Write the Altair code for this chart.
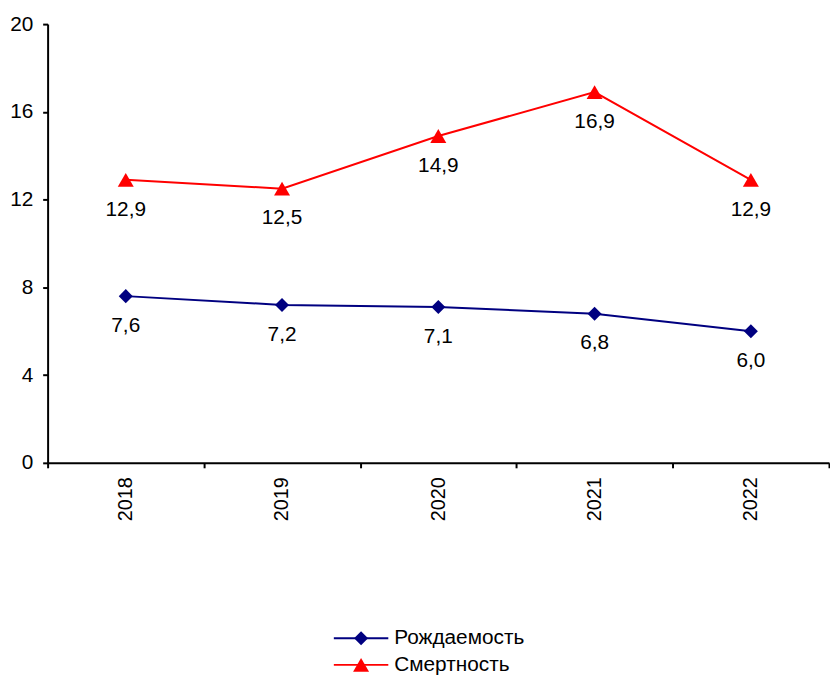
import altair as alt
import pandas as pd

# ---- data ----
years = [2018, 2019, 2020, 2021, 2022]
births = [7.6, 7.2, 7.1, 6.8, 6.0]
deaths = [12.9, 12.5, 14.9, 16.9, 12.9]
series_names = ["Рождаемость", "Смертность"]
series_colors = ["#000080", "#FF0000"]
series_shapes = ["diamond", "triangle-up"]
series_sizes = [200, 260]
y_ticks = [0, 4, 8, 12, 16, 20]

rows = []
for yr, b, d in zip(years, births, deaths):
    rows.append({"year": yr, "series": series_names[0], "value": b})
    rows.append({"year": yr, "series": series_names[1], "value": d})
df = pd.DataFrame(rows)

W, H = 789, 443
PAD = {"left": 40, "top": 13, "right": 1, "bottom": 216}
FONT = "Liberation Sans"
FS_AX_X = 20
FS_AX_Y = 21
FS_TXT = 21

x_enc = alt.X(
    "year:O",
    scale=alt.Scale(type="band", paddingInner=0, paddingOuter=0),
    axis=alt.Axis(
        tickBand="extent",
        labelAngle=-90,
        tickSize=5, tickWidth=2, tickColor="black",
        domainColor="black", domainWidth=2,
        labelFontSize=FS_AX_X, labelFont=FONT, labelColor="black",
        labelPadding=9, grid=False, title=None,
        labelOverlap=False,
    ),
)
y_enc = alt.Y(
    "value:Q",
    scale=alt.Scale(domain=[0, 20], nice=False),
    axis=alt.Axis(
        values=y_ticks, format="d",
        tickSize=5, tickWidth=2, tickColor="black",
        domainColor="black", domainWidth=2,
        labelFontSize=FS_AX_Y, labelFont=FONT, labelColor="black",
        labelPadding=10, grid=False, title=None,
    ),
)

color_scale = alt.Scale(domain=series_names, range=series_colors)
base = alt.Chart(df)

layers = [
    base.mark_line(strokeWidth=2).encode(
        x=x_enc, y=y_enc, color=alt.Color("series:N", scale=color_scale, legend=None)
    )
]
for name, shp, sz in zip(series_names, series_shapes, series_sizes):
    layers.append(
        base.transform_filter(alt.datum.series == name)
        .mark_point(shape=shp, filled=True, size=sz, opacity=1)
        .encode(x=x_enc, y=y_enc, color=alt.Color("series:N", scale=color_scale, legend=None))
    )

layers.append(
    base.transform_calculate(label="replace(format(datum.value, '.1f'), '.', ',')")
    .mark_text(dy=30, fontSize=FS_TXT, font=FONT, color="black", baseline="middle")
    .encode(x=x_enc, y=y_enc, text="label:N")
)

# ---- legend (bottom centre): line + marker + label per series ----
LEG_X0, LEG_X1, LEG_Y0, LEG_DY = 289, 344, 620, 27
leg_df = pd.DataFrame({"series": series_names})
for i, (name, col, shp, sz) in enumerate(zip(series_names, series_colors, series_shapes, series_sizes)):
    ly = LEG_Y0 + i * LEG_DY
    one = alt.Chart(leg_df).transform_filter(alt.datum.series == name)
    layers.append(one.mark_rule(color=col, strokeWidth=2).encode(
        x=alt.value(LEG_X0), x2=alt.value(LEG_X1), y=alt.value(ly)))
    layers.append(one.mark_point(shape=shp, filled=True, size=sz, color=col, opacity=1).encode(
        x=alt.value((LEG_X0 + LEG_X1) / 2), y=alt.value(ly)))
    layers.append(one.mark_text(align="left", baseline="middle", fontSize=FS_TXT, font=FONT, color="black").encode(
        x=alt.value(LEG_X1 + 6), y=alt.value(ly), text="series:N"))

chart = alt.layer(*layers).properties(
    width=W, height=H,
    padding=PAD,
    autosize=alt.AutoSizeParams(type="none"),
    background="white",
).configure_view(stroke=None)

chart.save("out.html", embed_options={"renderer": "svg", "actions": False})
